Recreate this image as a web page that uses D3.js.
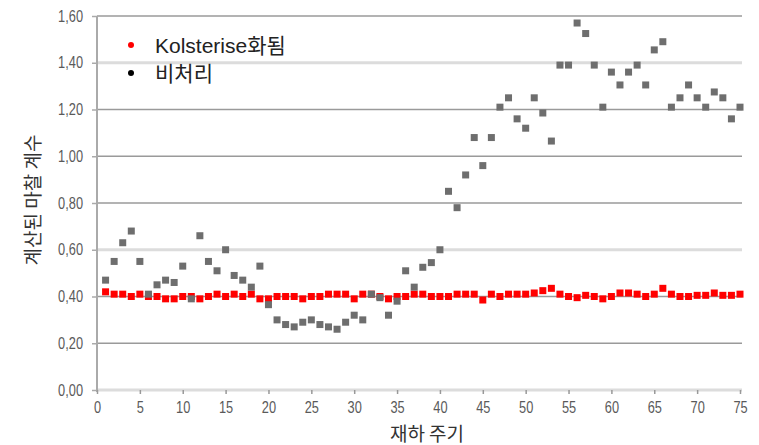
<!DOCTYPE html>
<html>
<head>
<meta charset="utf-8">
<script src="https://cdn.jsdelivr.net/npm/d3@7"></script>
<style>
  body { margin: 0; background: #fff; }
  svg { display: block; }
</style>
</head>
<body>
<svg id="chart"></svg>
<script>
const width = 759
const height = 445

// 재하 주기 (cycles)
const cycles = d3.range(1, 76)

// Kolsterise화됨
const kolsterised = [
  0.42, 0.41, 0.41, 0.40, 0.41, 0.40, 0.40, 0.39, 0.39, 0.40,
  0.40, 0.39, 0.40, 0.41, 0.40, 0.41, 0.40, 0.41, 0.39, 0.39,
  0.40, 0.40, 0.40, 0.39, 0.40, 0.40, 0.41, 0.41, 0.41, 0.39,
  0.41, 0.41, 0.40, 0.39, 0.40, 0.40, 0.41, 0.41, 0.40, 0.40,
  0.40, 0.41, 0.41, 0.41, 0.385, 0.41, 0.40, 0.41, 0.41, 0.41,
  0.415, 0.425, 0.435, 0.41, 0.40, 0.395, 0.405, 0.40, 0.39, 0.40,
  0.415, 0.415, 0.41, 0.40, 0.41, 0.435, 0.41, 0.40, 0.40, 0.405,
  0.405, 0.415, 0.405, 0.405, 0.41
]

// 비처리
const untreated = [
  0.47, 0.55, 0.63, 0.68, 0.55, 0.41, 0.45, 0.47, 0.46, 0.53,
  0.39, 0.66, 0.55, 0.51, 0.60, 0.49, 0.47, 0.44, 0.53, 0.365,
  0.30, 0.28, 0.27, 0.29, 0.30, 0.28, 0.27, 0.26, 0.29, 0.32,
  0.30, 0.41, 0.395, 0.32, 0.38, 0.51, 0.44, 0.525, 0.545, 0.60,
  0.85, 0.78, 0.92, 1.08, 0.96, 1.08, 1.21, 1.25, 1.16, 1.12,
  1.25, 1.185, 1.065, 1.39, 1.39, 1.57, 1.525, 1.39, 1.21, 1.36,
  1.305, 1.36, 1.39, 1.305, 1.455, 1.49, 1.21, 1.25, 1.305, 1.25,
  1.21, 1.275, 1.25, 1.16, 1.21
]

const xTicks = [0, 5, 10, 15, 20, 25, 30, 35, 40, 45, 50, 55, 60, 65, 70, 75]
const yTicks = [0, 0.2, 0.4, 0.6, 0.8, 1.0, 1.2, 1.4, 1.6]
const yTickLabels = ["0,00", "0,20", "0,40", "0,60", "0,80", "1,00", "1,20", "1,40", "1,60"]
const lightGrid = [0, 0.6, 1.4]

const seriesNames = ["Kolsterise화됨", "비처리"]
const xTitle = "재하 주기"
const yTitle = "계산된 마찰 계수"

const svg = d3.select('#chart')
    .attr('width', width)
    .attr('height', height)

const x = d3.scaleLinear().domain([0, 75]).range([97, 740])
const y = d3.scaleLinear().domain([0, 1.6]).range([390, 16])

const tickFont = '"Liberation Sans", Arial, sans-serif'
const legendFont = '"Liberation Sans", "Noto Sans CJK KR", sans-serif'
const korFont = '"Noto Sans CJK KR", "Noto Sans", sans-serif'

// gridlines
svg.append('g')
    .selectAll('line')
    .data(yTicks)
    .enter()
    .append('line')
    .attr('x1', x(0))
    .attr('x2', 742)
    .attr('y1', d => y(d))
    .attr('y2', d => y(d))
    .style('stroke', d => lightGrid.includes(d) ? '#dcdcdc' : '#9a9a9a')
    .style('stroke-width', d => lightGrid.includes(d) ? 3 : 1.5)

// y axis
const yAxis = svg.append('g')
    .attr('transform', `translate(${x(0)},0)`)
    .call(d3.axisLeft(y).tickValues(yTicks).tickSize(5).tickFormat((d, i) => yTickLabels[i]))
yAxis.select('.domain').attr('d', `M0,${y(1.6)}V${y(0) + 2}`).style('stroke', '#aaa').style('stroke-width', 2)
yAxis.selectAll('.tick line').style('stroke', '#aaa').style('stroke-width', 1.5)
yAxis.selectAll('.tick text')
    .attr('x', 0)
    .attr('transform', 'translate(-14,0) scale(0.8,1)')
    .style('font-family', tickFont)
    .style('font-size', '16px')
    .style('fill', '#5a5a5a')

// x axis
const xAxis = svg.append('g')
    .attr('transform', `translate(0,${y(0)})`)
    .call(d3.axisBottom(x).tickValues(xTicks).tickSize(4))
xAxis.select('.domain').remove()
xAxis.selectAll('.tick line').style('stroke', '#999').style('stroke-width', 1.5)
xAxis.selectAll('.tick text')
    .attr('y', 12)
    .attr('transform', 'scale(0.8,1)')
    .style('font-family', tickFont)
    .style('font-size', '16px')
    .style('fill', '#5a5a5a')

// points
const sq = 7
svg.append('g')
    .selectAll('rect')
    .data(kolsterised)
    .enter()
    .append('rect')
    .attr('x', (d, i) => x(cycles[i]) - sq / 2)
    .attr('y', d => y(d) - sq / 2)
    .attr('width', sq)
    .attr('height', sq)
    .style('fill', '#ff0000')

svg.append('g')
    .selectAll('rect')
    .data(untreated)
    .enter()
    .append('rect')
    .attr('x', (d, i) => x(cycles[i]) - sq / 2)
    .attr('y', d => y(d) - sq / 2)
    .attr('width', sq)
    .attr('height', sq)
    .style('fill', '#6e6e6e')

// legend
const legend = svg.append('g')
const legendColors = ['#ff0000', '#000000']
legend.selectAll('circle')
    .data(seriesNames)
    .enter()
    .append('circle')
    .attr('cx', 131)
    .attr('cy', (d, i) => 45 + i * 28)
    .attr('r', 3)
    .style('fill', (d, i) => legendColors[i])
legend.selectAll('text')
    .data(seriesNames)
    .enter()
    .append('text')
    .attr('x', 155)
    .attr('y', (d, i) => 53 + i * 28)
    .text(d => d)
    .style('font-family', legendFont)
    .style('font-size', '21px')
    .style('fill', '#222')

// axis titles
svg.append('text')
    .attr('x', 427)
    .attr('y', 441)
    .attr('text-anchor', 'middle')
    .text(xTitle)
    .style('font-family', korFont)
    .style('font-size', '19px')
    .style('fill', '#333')

svg.append('text')
    .attr('transform', 'translate(40,200) rotate(-90)')
    .attr('text-anchor', 'middle')
    .text(yTitle)
    .style('font-family', korFont)
    .style('font-size', '19px')
    .style('fill', '#333')
</script>
</body>
</html>
